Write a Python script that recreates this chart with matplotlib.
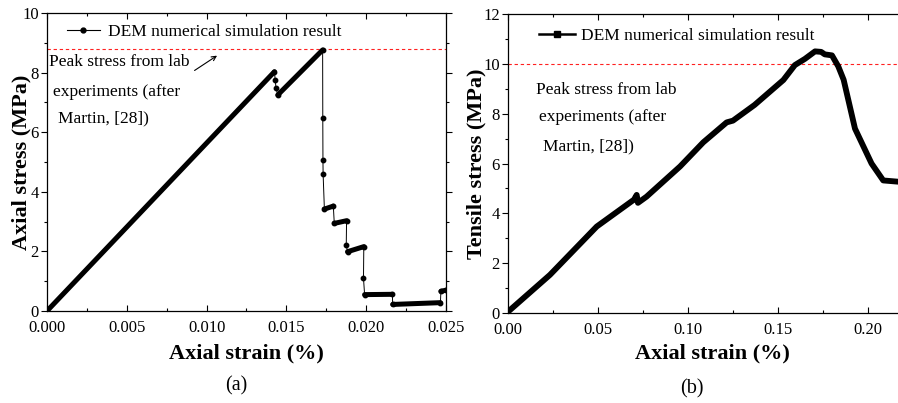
"""Two panels: DEM stress-strain curves vs lab peak stress"""
import matplotlib
matplotlib.use("Agg")
import matplotlib.pyplot as plt
from matplotlib.lines import Line2D
from matplotlib.ticker import MultipleLocator

plt.rcParams["font.family"] = ["Liberation Serif", "DejaVu Serif"]

# (a) axial test: curve vertices
strain_a = [0.0, 0.01425, 0.01430, 0.01435, 0.01446, 0.01727, 0.01728, 0.01729, 0.01730,
            0.01738, 0.01794, 0.01800, 0.01877, 0.01875, 0.01883, 0.01985, 0.01983,
            0.01990, 0.02164, 0.02166, 0.02465, 0.02468, 0.02500]
stress_a = [0.0, 8.03, 7.75, 7.47, 7.25, 8.76, 6.47, 5.07, 4.60,
            3.42, 3.52, 2.94, 3.03, 2.21, 1.99, 2.16, 1.10,
            0.55, 0.56, 0.22, 0.28, 0.66, 0.70]
# index pairs where the recorded points are packed into a solid band
dense_a = [(0, 1), (4, 5), (9, 10), (11, 12), (14, 15), (17, 18), (19, 20), (21, 22)]
lab_peak_a = 8.78

# (b) tensile test
strain_b = [0.0, 0.0233, 0.0493, 0.0700, 0.0715, 0.0722, 0.0770, 0.0956, 0.1085, 0.1215,
            0.1250, 0.1370, 0.1530, 0.1594, 0.1650, 0.1706, 0.1740, 0.1760, 0.1800,
            0.1835, 0.1865, 0.1928, 0.2020, 0.2085, 0.2167]
stress_b = [0.05, 1.53, 3.47, 4.55, 4.74, 4.42, 4.67, 5.88, 6.85, 7.65,
            7.72, 8.35, 9.35, 9.95, 10.20, 10.50, 10.48, 10.38, 10.34,
            9.90, 9.36, 7.40, 6.00, 5.32, 5.27]
lab_peak_b = 10.0

label_curve = "DEM numerical simulation result"
FS = 12.5

fig = plt.figure(figsize=(8.98, 4.03), dpi=100)
ax1 = fig.add_axes([47 / 898, 92 / 403, 399 / 898, 298 / 403])
ax2 = fig.add_axes([508 / 898, 90 / 403, 390 / 898, 299 / 403])


def style_axes(ax):
    ax.tick_params(axis="x", which="both", direction="in", top=True, labelsize=12, pad=6.5)
    ax.tick_params(axis="y", which="both", direction="out", labelsize=12, pad=2)
    ax.tick_params(which="major", length=4, width=0.8)
    ax.tick_params(which="minor", length=2.5, width=0.8)
    for s in ax.spines.values():
        s.set_linewidth(0.9)


# ---- (a)
ax1.plot(strain_a, stress_a, color="black", lw=0.7, marker="o", ms=3.2, zorder=3)
for i, j in dense_a:
    ax1.plot(strain_a[i:j + 1], stress_a[i:j + 1], color="black", lw=3.6,
             solid_capstyle="round", zorder=4)
ax1.axhline(lab_peak_a, color="#ff2020", lw=0.8, ls=(0, (3, 2.5)), zorder=2)
ax1.set_xlim(0, 0.025)
ax1.set_ylim(0, 10)
ax1.xaxis.set_major_locator(MultipleLocator(0.005))
ax1.xaxis.set_minor_locator(MultipleLocator(0.0025))
ax1.yaxis.set_major_locator(MultipleLocator(2))
ax1.yaxis.set_minor_locator(MultipleLocator(1))
ax1.xaxis.set_major_formatter(lambda v, p: f"{v:.3f}")
style_axes(ax1)
ax1.tick_params(axis="y", which="both", right=True)
ax1.set_xlabel("Axial strain (%)", fontsize=16, fontweight="bold")
ax1.set_ylabel("Axial stress (MPa)", fontsize=16, fontweight="bold")
ax1.xaxis.set_label_coords(0.5, -0.108)
ax1.yaxis.set_label_coords(-0.039, 0.5)
ax1.text(0.0001, 8.37, "Peak stress from lab", fontsize=FS, va="center")
ax1.text(0.00037, 7.35, "experiments (after", fontsize=FS, va="center")
ax1.text(0.0007, 6.48, "Martin, [28])", fontsize=FS, va="center")
ax1.annotate("", xy=(0.0108, 8.62), xytext=(0.0091, 8.02),
             arrowprops=dict(arrowstyle="->", color="black", lw=0.8, mutation_scale=8))
h1 = Line2D([], [], color="black", lw=0.8, marker="o", ms=3.5)
ax1.legend([h1], [label_curve], loc="center left", bbox_to_anchor=(0.05, 0.936),
           frameon=False, fontsize=FS, handlelength=1.9, handletextpad=0.45,
           borderaxespad=0, borderpad=0)
fig.text(236 / 898, 1 - 386 / 403, "(a)", fontsize=14.5, ha="center", va="center")

# ---- (b)
ax2.plot(strain_b, stress_b, color="black", lw=4.2, solid_joinstyle="round",
         solid_capstyle="round", zorder=4)
ax2.axhline(lab_peak_b, color="#ff2020", lw=0.8, ls=(0, (3, 2.5)), zorder=2)
ax2.set_xlim(0, 0.2167)
ax2.set_ylim(0, 12)
ax2.xaxis.set_major_locator(MultipleLocator(0.05))
ax2.xaxis.set_minor_locator(MultipleLocator(0.025))
ax2.yaxis.set_major_locator(MultipleLocator(2))
ax2.yaxis.set_minor_locator(MultipleLocator(1))
ax2.xaxis.set_major_formatter(lambda v, p: f"{v:.2f}")
style_axes(ax2)
ax2.spines["right"].set_visible(False)
ax2.set_xlabel("Axial strain (%)", fontsize=16, fontweight="bold")
ax2.set_ylabel("Tensile stress (MPa)", fontsize=16, fontweight="bold")
ax2.xaxis.set_label_coords(0.524, -0.102)
ax2.yaxis.set_label_coords(-0.056, 0.5)
ax2.text(0.0156, 8.96, "Peak stress from lab", fontsize=FS, va="center")
ax2.text(0.0172, 7.87, "experiments (after", fontsize=FS, va="center")
ax2.text(0.0194, 6.67, "Martin, [28])", fontsize=FS, va="center")
h2 = Line2D([], [], color="black", lw=1.8, marker="s", ms=4)
ax2.legend([h2], [label_curve], loc="center left", bbox_to_anchor=(0.0795, 0.926),
           frameon=False, fontsize=FS, handlelength=2.1, handletextpad=0.3,
           borderaxespad=0, borderpad=0)
fig.text(692 / 898, 1 - 389 / 403, "(b)", fontsize=14.5, ha="center", va="center")

fig.savefig("out.png", dpi=100, facecolor="white")
plt.close(fig)
